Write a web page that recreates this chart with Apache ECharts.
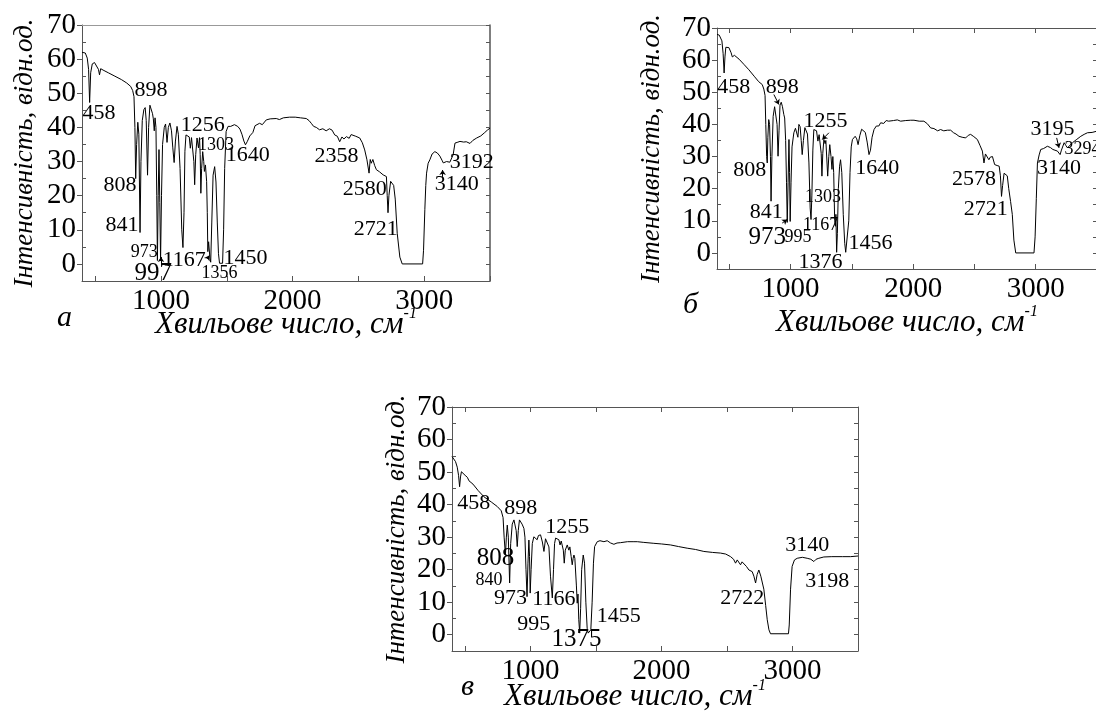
<!DOCTYPE html>
<html><head><meta charset="utf-8">
<script src="https://cdn.jsdelivr.net/npm/echarts@6/dist/echarts.min.js"></script>
<style>html,body{margin:0;padding:0;background:#fff}#c{width:1096px;height:714px}</style>
</head><body><div id="c"></div>
<script>
// ---------- data (wavenumber, intensity) ----------
const spectrumA = [[400,62.0],[410,62.5],[425,61.8],[440,60.3],[450,57],[458,47.3],[466,56],[478,58.6],[495,59],[510,58.5],[525,57],[533,55.4],[542,57.2],[560,56.8],[600,56.0],[650,55.0],[700,54.0],[740,53.0],[770,52.0],[785,50.8],[795,49.0],[802,40],[808,25],[815,35],[824,41.5],[832,38],[841,9.2],[848,30],[858,42],[870,45.2],[880,45.8],[888,42],[898,26],[906,40],[916,46.5],[926,46.8],[936,44],[942,42.5],[949,39.0],[955,42.8],[962,40],[968,20],[973,1.0],[979,20],[985,33.5],[991,18],[997,1.0],[1004,20],[1012,35],[1025,40],[1035,41],[1046,35.6],[1056,40],[1068,41.3],[1080,39],[1090,34],[1100,29.7],[1110,36],[1122,40.3],[1132,38],[1145,28],[1158,10],[1167,4.8],[1175,15],[1182,33],[1190,37.8],[1205,37.8],[1215,37.2],[1223,33.9],[1232,37.0],[1240,37.3],[1250,30],[1256,23.2],[1264,32],[1274,36.9],[1285,34.0],[1293,37.0],[1298,32],[1303,20.7],[1309,28],[1317,32.9],[1325,30],[1330,27.1],[1338,29.0],[1347,24.1],[1352,15],[1356,3.6],[1362,6.5],[1366,6],[1372,1.7],[1378,0.5],[1386,12],[1396,26],[1408,28.5],[1418,24],[1428,12],[1437,3],[1445,0.2],[1455,0.0],[1468,0.2],[1476,10],[1484,28],[1495,38.8],[1510,40.3],[1530,40.3],[1558,40.8],[1583,40.3],[1600,39.5],[1615,38],[1630,36],[1642,34.9],[1655,35.8],[1675,37.5],[1698,38.5],[1715,40.5],[1725,40.0],[1749,41.2],[1760,41.5],[1770,40.8],[1800,42.2],[1830,42.5],[1845,42.0],[1876,42.6],[1900,42.3],[1930,42.8],[1977,43.0],[2020,43.0],[2060,42.8],[2104,42.6],[2125,42.0],[2142,41.2],[2160,40.3],[2180,40.0],[2205,39.3],[2230,39.6],[2255,39.0],[2280,39.6],[2300,39.2],[2320,37.8],[2340,37.4],[2358,35.8],[2375,37.2],[2390,36.6],[2409,37.3],[2430,36.8],[2445,37.9],[2460,37.9],[2480,37.4],[2510,36.9],[2530,35.5],[2548,33.4],[2565,30.5],[2581,26.6],[2590,30.6],[2598,29.5],[2610,30.6],[2624,28.8],[2637,27.6],[2660,27],[2688,26.1],[2713,25.6],[2719,20],[2725,15],[2732,20],[2745,24.2],[2756,24.6],[2768,23],[2780,19],[2795,9],[2815,2],[2833,0],[2988,0],[2995,4],[3005,16],[3012,23],[3018,26.6],[3030,29.5],[3043,30.5],[3060,32.2],[3081,32.9],[3100,32.5],[3119,31.6],[3135,30.4],[3145,29.6],[3158,29.5],[3170,30.0],[3183,30.5],[3195,29.8],[3208,29.5],[3220,32],[3234,35.4],[3250,35.6],[3272,35.9],[3300,35.7],[3320,35.8],[3348,35.3],[3370,36.2],[3399,36.9],[3430,37.5],[3460,38.5],[3480,39.2],[3500,39.8]];

const spectrumB = [[400,68.0],[407,68.5],[418,67.8],[429,67.3],[440,66],[450,62],[458,56],[465,61],[472,64.0],[480,64.4],[497,63.9],[515,62.3],[525,61.0],[532,60.6],[542,61.5],[555,61.4],[580,60.3],[619,58.7],[660,57.0],[703,55.0],[740,53.3],[769,52.4],[782,51.0],[792,49],[798,40],[805,30],[810,28],[815,36],[822,41.5],[829,40],[836,30],[841,16.1],[848,30],[858,42.5],[870,45.5],[880,45.6],[890,40],[898,30.1],[906,38],[914,46],[924,46.9],[934,45.5],[945,43.1],[952,42],[960,35],[967,22],[973,9.5],[980,22],[987,35.3],[992,25],[997,9.8],[1004,22],[1012,33],[1027,37.4],[1040,38.8],[1050,39],[1060,36.0],[1068,40.0],[1078,39.3],[1087,35],[1095,30.6],[1105,35],[1117,39],[1128,39.4],[1138,37],[1150,28],[1160,14],[1167,10.4],[1174,18],[1182,32],[1190,38.4],[1212,38.0],[1223,34.8],[1233,36.8],[1240,37.0],[1250,31],[1256,23.9],[1263,31],[1272,35.3],[1282,34],[1288,35],[1296,34.5],[1303,23.9],[1312,30],[1320,33.7],[1330,30],[1338,26],[1345,30],[1352,25],[1360,10],[1366,8.3],[1370,12],[1376,0.2],[1382,6],[1390,20],[1400,27],[1408,29],[1418,25],[1430,12],[1442,3],[1450,0.2],[1458,0],[1466,0.5],[1475,10],[1485,25],[1495,33],[1505,35.3],[1527,36.3],[1540,35.5],[1551,33.7],[1565,36.5],[1580,38.5],[1594,38.9],[1610,37.5],[1625,34.5],[1640,30.6],[1652,32],[1665,36],[1681,38.4],[1700,39.5],[1720,39.5],[1735,40.5],[1760,40.3],[1780,41.2],[1800,41.0],[1816,41.5],[1840,41.2],[1871,41.4],[1898,41.0],[1940,41.2],[1980,41.3],[2007,41.3],[2050,41.0],[2088,41.0],[2116,40.2],[2143,38.9],[2170,38.7],[2200,38.0],[2224,38.4],[2250,38.0],[2280,38.2],[2306,38.2],[2330,37.4],[2350,37.0],[2374,36.3],[2400,36.0],[2429,35.8],[2450,36.6],[2469,36.9],[2495,36.2],[2524,35.3],[2545,33.5],[2565,31.7],[2578,28.0],[2590,30.8],[2606,30.6],[2618,29.0],[2629,29.8],[2647,30.0],[2665,27.5],[2685,27.2],[2702,27.0],[2712,24],[2721,17.6],[2730,21],[2742,24.8],[2755,25.4],[2768,24],[2780,20],[2795,16],[2809,12],[2822,4],[2837,0],[2986,0],[2995,5],[3005,17],[3014,28.0],[3028,30.5],[3041,32.2],[3065,32.5],[3095,33.2],[3120,32.8],[3140,32.2],[3150,32.5],[3177,31.7],[3188,31.2],[3199,30.6],[3210,32],[3232,34.3],[3245,33.5],[3259,32.7],[3275,33.2],[3300,34.3],[3330,35.2],[3368,36.3],[3395,36.9],[3422,37.4],[3460,37.5],[3500,37.9]];

const spectrumC = [[400,54.8],[410,54.3],[427,53.2],[440,51.5],[450,49],[458,45.5],[465,48.5],[472,50.1],[485,49.8],[500,49],[517,48.4],[530,47.3],[542,47.0],[560,46.3],[600,44.3],[644,42.4],[700,40.8],[746,39.4],[776,38.1],[790,36],[798,30],[808,24.5],[815,30],[822,33.7],[830,30],[840,15.9],[848,28],[860,34],[873,35.3],[882,35.0],[890,32],[898,27.1],[906,32],[915,35.3],[924,35.4],[935,34],[949,32.7],[957,30],[965,20],[973,11.7],[980,22],[987,29.1],[992,24],[997,12.8],[1004,20],[1013,28],[1025,30.1],[1040,30.4],[1050,29.2],[1060,30.5],[1076,30.7],[1090,28.5],[1102,25.6],[1114,29.5],[1127,30.1],[1140,27],[1152,18],[1166,11.3],[1175,20],[1183,28],[1191,29.7],[1205,29.5],[1216,29.2],[1225,27.6],[1234,28.8],[1242,28.6],[1250,26],[1257,22],[1265,26],[1280,27.6],[1292,26],[1300,27],[1310,24],[1318,21.5],[1325,23.5],[1331,24.5],[1338,23.5],[1344,23],[1350,15],[1356,9.7],[1362,12.5],[1368,4.6],[1375,0.5],[1382,8],[1390,20],[1402,24.5],[1412,22],[1422,10],[1432,2],[1440,0.5],[1452,0.3],[1460,1.5],[1470,10],[1480,22],[1489,27.1],[1509,28.6],[1530,28.9],[1560,28.6],[1585,28.9],[1611,28.2],[1625,27.6],[1636,27.8],[1660,28.2],[1687,28.3],[1740,28.6],[1789,28.6],[1815,28.6],[1860,28.4],[1941,28.1],[2000,27.9],[2069,27.6],[2130,27.1],[2196,26.6],[2260,26.2],[2323,25.6],[2390,25.3],[2450,25.1],[2490,24.8],[2527,24.0],[2550,23.2],[2565,22.0],[2578,23.0],[2590,22.5],[2603,21.5],[2615,22.4],[2628,22.0],[2648,21.0],[2667,19.9],[2692,19.4],[2705,18],[2718,15.9],[2730,18.5],[2743,19.9],[2758,18],[2781,14.0],[2795,9],[2807,4.6],[2820,1.5],[2832,0.3],[2969,0.3],[2975,3],[2985,14],[2997,21.0],[3015,23],[3036,23.5],[3075,23.8],[3112,23.5],[3140,23.2],[3163,22.5],[3180,23.2],[3201,23.5],[3239,23.9],[3300,24.0],[3380,24.0],[3443,24.0],[3500,24.2]];

// peak annotations: [text, wavenumber, intensity]
const peakLabelsA = [['458',530,44.2],['898',924,50.8],['1256',1317,40.6],['1303',1419,34.7],['1640',1660,31.8],['808',688,23.0],['841',703,11.2],['973',873,3.4],['997',941,-2.7],['1167',1177,1.0],['1356',1444,-2.7],['1450',1642,1.7],['2358',2333,31.5],['2580',2548,21.9],['2721',2632,10.2],['3140',3247,23.5],['3192',3361,29.8]];
const peakLabelsB = [['458',537,51.7],['898',932,51.7],['1255',1286,41.0],['808',668,25.7],['1303',1265,17.4],['841',802,12.6],['973',810,4.7],['995',1060,5.0],['1167',1245,8.5],['1376',1245,-2.9],['1456',1653,3.1],['1640',1708,26.5],['2578',2497,22.8],['2721',2592,13.5],['3195',3136,38.4],['3294',3381,32.2],['3140',3190,26.5]];
const peakLabelsC = [['458',567,40.4],['898',924,38.9],['1255',1280,33.2],['808',733,23.5],['840',682,16.7],['973',847,11.3],['1166',1178,11.0],['995',1025,3.1],['1375',1351,-1.5],['1455',1674,5.6],['2722',2616,11.3],['3140',3112,27.6],['3198',3265,16.3]];
const arrowsA = [[[1000,-0.5],[1000,2.0]],[[1352,1.5],[1368,2.5]],[[3140,25.5],[3140,27.5]]];
const arrowsB = [[[864,49.3],[905,46.2]],[[1313,37.4],[1259,35.3]],[[932,9.3],[973,10.4]],[[3171,35.8],[3190,32.7]]];

const smallLabels = [['973','1356','1303'],['1303','995','1167','3294'],['840']];
const largeLabels = [['997'],['973'],['808','1375']];

const yTickLabels = [0,10,20,30,40,50,60,70];
const yMinorTicks = [-5,5,15,25,35,45,55,65];
const yAllTicks = [-5,0,5,10,15,20,25,30,35,40,45,50,55,60,65,70];
const xTickLabels = [1000,2000,3000];
const xTicks = [500,1000,1500,2000,2500,3000,3500];
const panelLetters = ['а','б','в'];
const xTitle = 'Хвильове число, см';
const yTitle = 'Інтенсивність, відн.од.';

// ---------- layout ----------
const FONT = 'Liberation Serif';
const grids = [
  {left:82, top:25, width:408, height:256},
  {left:717, top:28, width:380, height:241},
  {left:452, top:407, width:406, height:244}
];
const xNameGap = [25, 35, 27];
const xNamePad = [[0,0,0,0],[0,0,0,0],[0,40,0,0]];
const yNameGap = [44, 52, 42];
const letterPos = [[57,303],[683,290],[461,672]];

const spectra = [spectrumA, spectrumB, spectrumC];
const peaks = [peakLabelsA, peakLabelsB, peakLabelsC];
const arrows = [arrowsA, arrowsB, []];

const xAxis = [], yAxis = [], series = [], graphic = [];
grids.forEach((g, i) => {
  xAxis.push({
    gridIndex:i, type:'value', min:400, max:3500, position:'bottom',
    axisLine:{show:true, onZero:false, lineStyle:{color:'#555', width:1}},
    axisTick:{show:true, inside:true, length:5, customValues:xTicks, lineStyle:{color:'#555'}},
    axisLabel:{show:true, customValues:xTickLabels, margin:6, formatter:v => String(v),
      fontFamily:FONT, fontSize:29, color:'#000'},
    splitLine:{show:false},
    name:'{t|' + xTitle + '}{s|-1}', nameLocation:'middle', nameGap:xNameGap[i], nameMoveOverlap:false,
    nameTextStyle:{padding:xNamePad[i], rich:{
      t:{fontFamily:FONT, fontStyle:'italic', fontSize:31, color:'#000'},
      s:{fontFamily:FONT, fontStyle:'italic', fontSize:16, color:'#000', padding:[0,0,22,0]}
    }}
  });
  xAxis.push({
    gridIndex:i, type:'value', min:400, max:3500, position:'top',
    axisLine:{show:true, onZero:false, lineStyle:{color:i===0?'#999':'#555', width:1}},
    axisTick:{show:i>0, inside:true, length:5, customValues:xTicks, lineStyle:{color:'#555'}},
    axisLabel:{show:false}, splitLine:{show:false}
  });
  yAxis.push({
    gridIndex:i, type:'value', min:-5, max:70, position:'left',
    axisLine:{show:true, onZero:false, lineStyle:{color:'#555', width:1}},
    axisTick:{show:true, inside:false, length:5, customValues:yTickLabels, lineStyle:{color:'#555'}},
    axisLabel:{show:true, customValues:yTickLabels, margin:6, fontFamily:FONT, fontSize:29, color:'#000'},
    splitLine:{show:false},
    name:yTitle, nameLocation:'middle', nameGap:yNameGap[i], nameRotate:90,
    nameTextStyle:{fontFamily:FONT, fontStyle:'italic', fontSize:27, color:'#000'}
  });
  yAxis.push({
    gridIndex:i, type:'value', min:-5, max:70, position:'left',
    axisLine:{show:false},
    axisTick:{show:true, inside:true, length:4, customValues:yMinorTicks, lineStyle:{color:'#555'}},
    axisLabel:{show:false}, splitLine:{show:false}
  });
  yAxis.push({
    gridIndex:i, type:'value', min:-5, max:70, position:'right',
    axisLine:{show:true, onZero:false, lineStyle:{color:'#555', width:i===0?1.5:1}},
    axisTick:{show:true, inside:true, length:4, customValues:yAllTicks, lineStyle:{color:'#555'}},
    axisLabel:{show:false}, splitLine:{show:false}
  });
  series.push({
    type:'line', xAxisIndex:2*i, yAxisIndex:3*i, data:spectra[i],
    symbol:'none', showSymbol:false, clip:true, animation:false, silent:true,
    lineStyle:{color:'#000', width:1}
  });
  series.push({
    type:'scatter', xAxisIndex:2*i, yAxisIndex:3*i, symbolSize:0, silent:true, animation:false,
    itemStyle:{opacity:1},
    data: peaks[i].map(p => ({
      name:p[0], value:[p[1], p[2]],
      label:{color:'#000', fontSize: smallLabels[i].includes(p[0]) ? 18 : (largeLabels[i].includes(p[0]) ? 25 : 22)}
    })),
    label:{show:true, position:'inside', formatter:q => q.name, fontFamily:FONT, color:'#000', textBorderWidth:0},
    markLine: arrows[i].length ? {
      silent:true, animation:false, symbol:['none','arrow'], symbolSize:5,
      label:{show:false}, lineStyle:{color:'#000', width:1, type:'solid'},
      data: arrows[i].map(a => [{coord:a[0]}, {coord:a[1]}])
    } : undefined
  });
  graphic.push({
    type:'text', left:letterPos[i][0], top:letterPos[i][1],
    style:{text:panelLetters[i], font:'italic 30px "Liberation Serif"', fill:'#000'}
  });
});

const chart = echarts.init(document.getElementById('c'), null, {renderer:'canvas'});
chart.setOption({
  backgroundColor:'#fff',
  animation:false,
  grid: grids.map(g => Object.assign({outerBoundsMode:'none', containLabel:false, show:false}, g)),
  xAxis, yAxis, series, graphic
});
</script>
</body></html>
